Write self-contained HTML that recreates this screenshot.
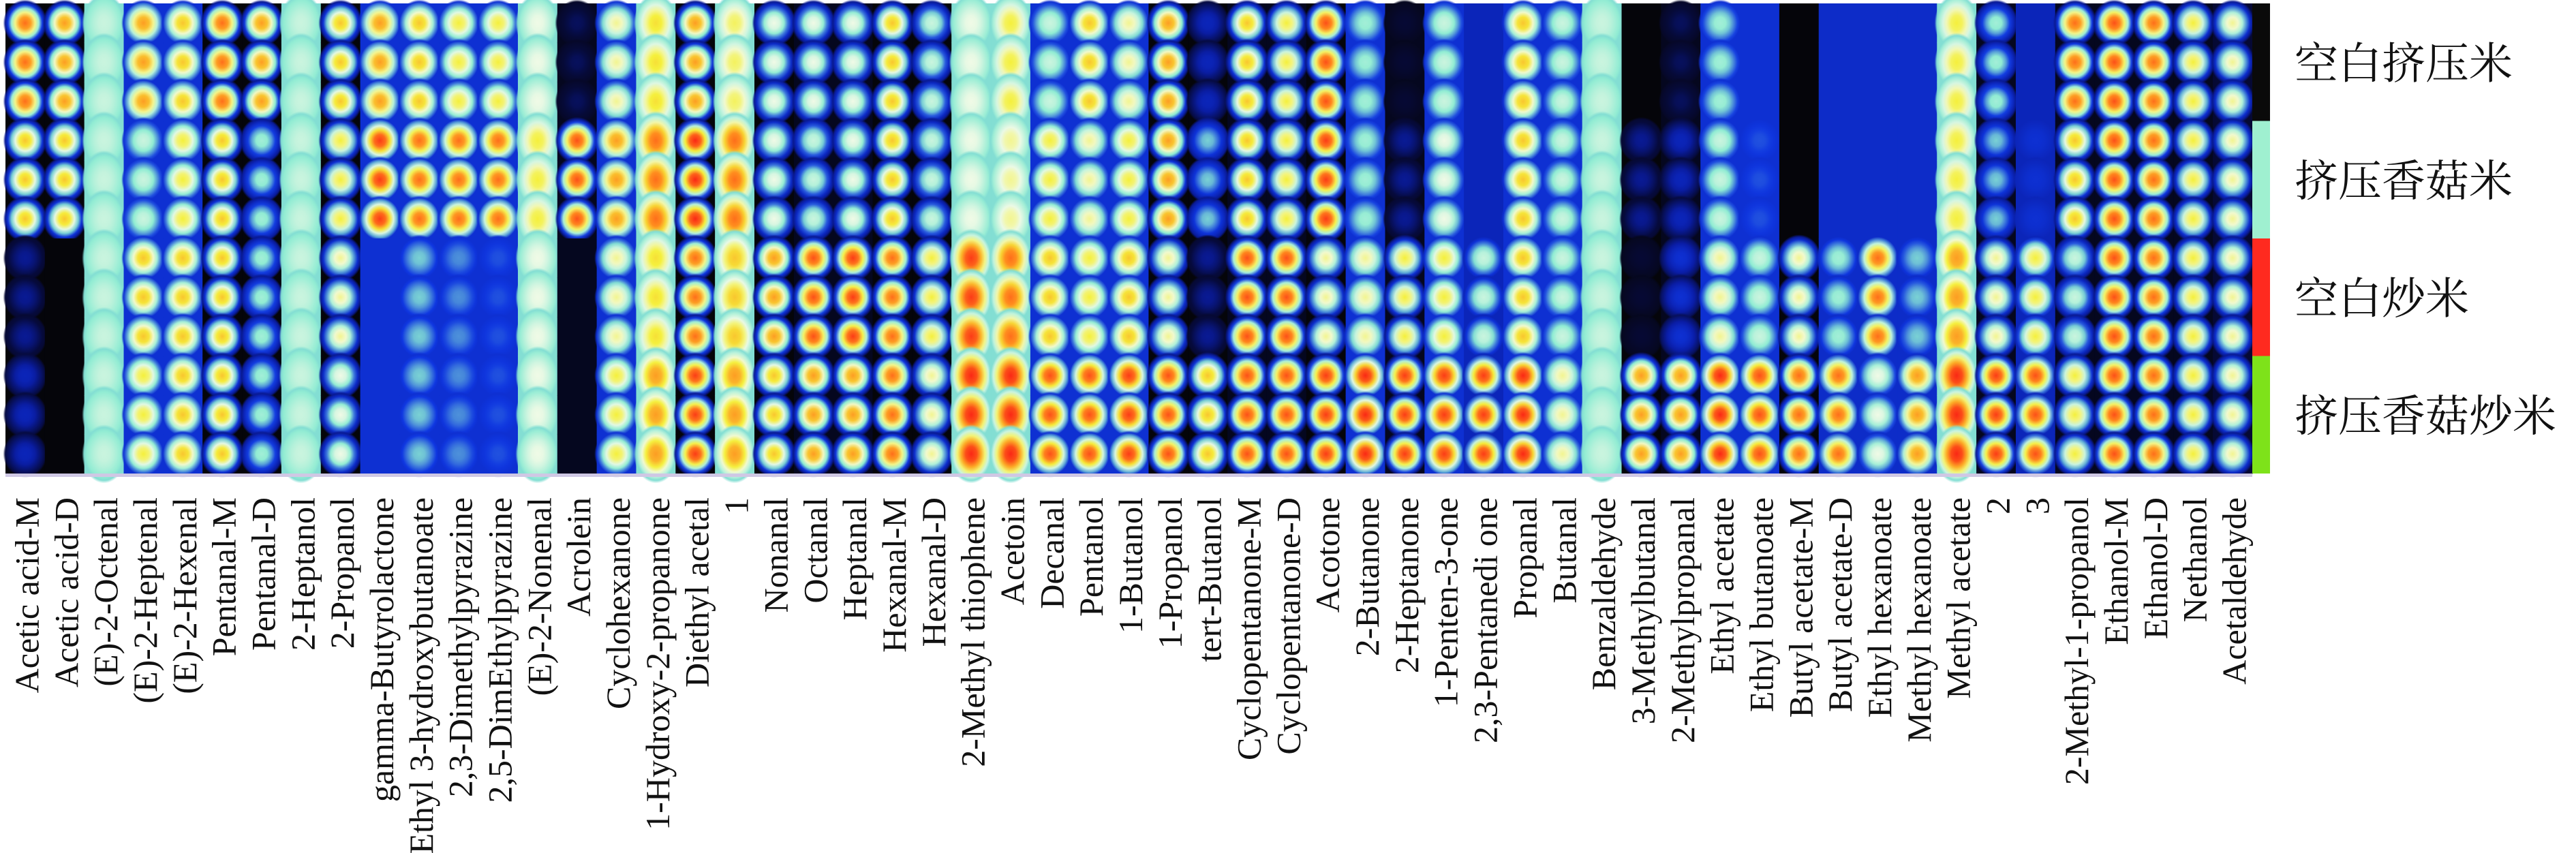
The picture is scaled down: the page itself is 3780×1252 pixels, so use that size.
<!DOCTYPE html>
<html><head><meta charset="utf-8"><style>
html,body{margin:0;padding:0;background:#fff;}
svg{display:block;}
</style></head><body>
<svg id="chart" width="3780" height="1252" viewBox="0 0 3780 1252" xmlns="http://www.w3.org/2000/svg">
<defs id="defs"></defs>
<g id="cells"></g>
<rect x="8" y="695" width="3297" height="5" fill="#cfc8e4"></rect>
<g id="strip"></g>
<g id="labels" font-family="'Liberation Serif', serif" font-size="50" fill="#111"></g>
<g id="legend" font-family="'Liberation Serif','Noto Serif CJK SC',serif" font-size="64" fill="#111"></g>
</svg>
<script>
const compounds = ["Acetic acid-M","Acetic acid-D","(E)-2-Octenal","(E)-2-Heptenal","(E)-2-Hexenal","Pentanal-M","Pentanal-D","2-Heptanol","2-Propanol","gamma-Butyrolactone","Ethyl 3-hydroxybutanoate","2,3-Dimethylpyrazine","2,5-DimEthylpyrazine","(E)-2-Nonenal","Acrolein","Cyclohexanone","1-Hydroxy-2-propanone","Diethyl acetal","1","Nonanal","Octanal","Heptanal","Hexanal-M","Hexanal-D","2-Methyl thiophene","Acetoin","Decanal","Pentanol","1-Butanol","1-Propanol","tert-Butanol","Cyclopentanone-M","Cyclopentanone-D","Acotone","2-Butanone","2-Heptanone","1-Penten-3-one","2,3-Pentanedi one","Propanal","Butanal","Benzaldehyde","3-Methylbutanal","2-Methylpropanal","Ethyl acetate","Ethyl butanoate","Butyl acetate-M","Butyl acetate-D","Ethyl hexanoate","Methyl hexanoate","Methyl acetate","2","3","2-Methyl-1-propanol","Ethanol-M","Ethanol-D","Nethanol","Acetaldehyde"];
const groups = ["空白挤压米","挤压香菇米","空白炒米","挤压香菇炒米"];
// peak intensity per compound for each sample group (0..1)
const blankExtruded   = [.85,.8,.55,.8,.75,.85,.8,.55,.75,.8,.75,.7,.7,.6,.15,.65,.72,.8,.68,.6,.6,.6,.75,.55,.6,.7,.55,.75,.65,.8,.25,.75,.7,.88,.5,.1,.55,.2,.75,.55,.55,0,.15,.5,.3,0,.1,.1,.1,.7,.5,.2,.85,.88,.85,.7,.65];
const shiitakeExtruded= [.75,.75,.55,.55,.7,.75,.5,.55,.7,.9,.85,.85,.85,.7,.88,.8,.85,.92,.85,.6,.55,.6,.75,.55,.6,.65,.7,.65,.7,.8,.45,.75,.7,.9,.5,.2,.6,.2,.75,.55,.55,.2,.25,.55,.35,0,.15,.15,.15,.7,.45,.3,.75,.88,.85,.7,.65];
const blankFried      = [.2,0,.55,.75,.75,.75,.5,.55,.65,.15,.45,.4,.35,.6,.05,.65,.72,.85,.75,.8,.88,.9,.85,.7,.9,.85,.75,.7,.75,.65,.2,.88,.88,.65,.65,.7,.7,.55,.75,.55,.55,.1,.3,.65,.55,.65,.5,.85,.45,.8,.65,.7,.55,.88,.85,.7,.65];
const shiitakeFried   = [.25,0,.55,.7,.75,.75,.5,.55,.6,.15,.45,.4,.35,.6,.05,.7,.8,.9,.8,.75,.8,.8,.85,.65,.92,.92,.88,.88,.9,.88,.75,.88,.88,.9,.92,.9,.9,.9,.92,.65,.55,.8,.8,.92,.88,.85,.85,.6,.8,.92,.9,.88,.7,.88,.85,.7,.65];
// background level of each compound's region
const bgLevel = [0,0,.46,.3,.3,0,0,.46,0,.3,.3,.3,.3,.46,.05,.3,.46,0,.46,0,.05,.05,0,0,.46,.46,.3,.3,.3,0,0,.05,.05,0,.3,.05,.3,.25,.3,.3,.46,0,.05,.3,.3,0,.28,.28,.28,.46,.05,.25,.05,.05,.05,.05,.1];

const NS="http://www.w3.org/2000/svg";
const X0=8, X1=3305, Y0=5, Y1=695;
const nC=compounds.length, nR=12;
const cw=(X1-X0)/nC, rh=(Y1-Y0)/nR;
const xScale = i => X0 + i*cw;
const yScale = r => Y0 + r*rh;
const stops=[[0,[5,5,10]],[.12,[6,10,60]],[.22,[10,30,170]],[.33,[15,55,225]],[.47,[140,235,210]],[.6,[240,250,230]],[.7,[245,240,60]],[.82,[255,140,30]],[.93,[250,30,20]],[1,[230,20,20]]];
function cmap(v){v=Math.max(0,Math.min(1,v));for(let k=1;k<stops.length;k++){if(v<=stops[k][0]){const a=stops[k-1],b=stops[k];const t=(v-a[0])/(b[0]-a[0]);const c=a[1].map((x,j)=>Math.round(x+(b[1][j]-x)*t));return `rgb(${c[0]},${c[1]},${c[2]})`;}}return "rgb(230,20,20)";}
const defs=document.getElementById('defs'), cells=document.getElementById('cells');
const series=[blankExtruded,shiitakeExtruded,blankFried,shiitakeFried];
for(let i=0;i<nC;i++){
  const bg=bgLevel[i];
  const band = bg>=.45;
  for(let r=0;r<nR;r++){
    const v=series[Math.floor(r/3)][i];
    const x=xScale(i), y=yScale(r);
    const rect=document.createElementNS(NS,'rect');
    rect.setAttribute('x',x);rect.setAttribute('y',y);rect.setAttribute('width',cw+0.6);rect.setAttribute('height',rh+0.6);
    rect.setAttribute('fill',cmap(bg));
    
    
    cells.appendChild(rect);
    if(v<=bg) continue;
    const gid='g'+i+'_'+r;
    const g=document.createElementNS(NS,'radialGradient');g.setAttribute('id',gid);
    const floor=Math.min(Math.max(bg,0.2),Math.max(bg,v*0.5));
    [[0,0],[.25,.08],[.45,.3],[.62,.55],[.78,.8],[.9,1]].forEach(p=>{const s=document.createElementNS(NS,'stop');s.setAttribute('offset',p[0]);const val=v-(v-floor)*p[1];s.setAttribute('stop-color',cmap(val));g.appendChild(s);});
    const s2=document.createElementNS(NS,'stop');s2.setAttribute('offset',1);s2.setAttribute('stop-color',cmap(floor));s2.setAttribute('stop-opacity',0);g.appendChild(s2);
    defs.appendChild(g);
    const e=document.createElementNS(NS,'ellipse');
    e.setAttribute('cx',x+cw/2);e.setAttribute('cy',y+rh/2);
    e.setAttribute('rx',cw*0.56);e.setAttribute('ry',band?rh*0.75:rh*0.6);
    e.setAttribute('fill','url(#'+gid+')');
    
    
    cells.appendChild(e);
  }
}
const labels=document.getElementById('labels');
compounds.forEach((n,i)=>{
  const t=document.createElementNS(NS,'text');
  const cx=xScale(i)+cw/2+2;
  t.setAttribute('transform',`translate(${cx},730) rotate(-90)`);
  t.setAttribute('text-anchor','end');t.setAttribute('dy','0.35em');
  t.textContent=n;
  
  
  labels.appendChild(t);
});
const strip=document.getElementById('strip');
const stripColors=["#0a0a0a","#9ff0d0","#ff2a1f","#7ee21a"];
const legend=document.getElementById('legend');
groups.forEach((gname,k)=>{
  const rc=document.createElementNS(NS,'rect');
  rc.setAttribute('x',3305);rc.setAttribute('y',yScale(k*3));rc.setAttribute('width',26);rc.setAttribute('height',rh*3);
  rc.setAttribute('fill',stripColors[k]);
  
  
  strip.appendChild(rc);
  const t=document.createElementNS(NS,'text');
  t.setAttribute('x',3367);t.setAttribute('y',yScale(k*3)+rh*1.5+24);
  t.textContent=gname;
  
  
  legend.appendChild(t);
});
</script>
</body></html>
